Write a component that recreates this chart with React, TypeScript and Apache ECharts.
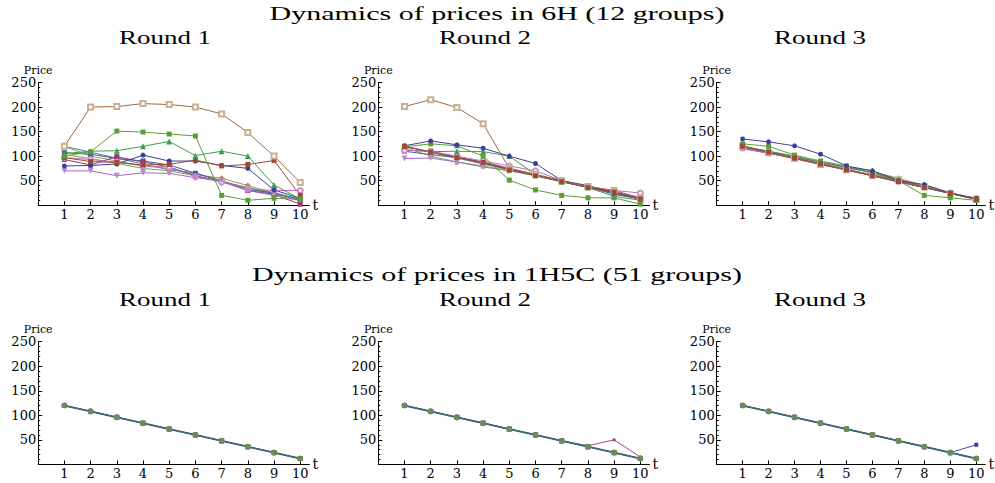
import React, { useEffect, useRef } from "react";
import * as echarts from "echarts";

// ---------- data ----------
const T = [1, 2, 3, 4, 5, 6, 7, 8, 9, 10];
const X_TICKS = [1, 2, 3, 4, 5, 6, 7, 8, 9, 10];

const ROW_TITLES = ["Dynamics of prices in 6H (12 groups)", "Dynamics of prices in 1H5C (51 groups)"];
const ROUND_TITLES = ["Round 1", "Round 2", "Round 3"];

// 6H, Round 1
const h6r1Brown = [120, 200, 201, 207, 205, 200, 186, 148, 100, 46];
const h6r1GreenSq = [100, 109, 151, 149, 145, 141, 20, 10, 14, 12];
const h6r1GreenTri = [105, 110, 111, 120, 130, 101, 110, 100, 41, 13];
const h6r1BlueCirc = [80, 81, 84, 102, 90, 90, 81, 75, 31, 14];
const h6r1RedSq = [97, 89, 87, 82, 83, 92, 80, 83, 91, 20];
const h6r1MagSq = [93, 82, 99, 88, 78, 60, 48, 30, 22, 2];
const h6r1LavTri = [70, 70, 60, 66, 65, 56, 50, 30, 20, 10];
const h6r1PinkCirc = [97, 93, 88, 80, 78, 58, 47, 33, 30, 30];
const h6r1Olive = [120, 100, 90, 80, 75, 62, 55, 40, 25, 10];
const h6r1Teal = [120, 108, 96, 84, 72, 66, 48, 36, 24, 12];
const h6r1BlueSq = [107, 104, 95, 90, 82, 65, 50, 32, 25, 12];
const h6r1LightGreen = [103, 95, 85, 75, 70, 60, 48, 35, 22, 13];

// 6H, Round 2
const h6r2Brown = [201, 215, 199, 166, 75, 63, 50, 38, 30, 15];
const h6r2BlueCirc = [121, 131, 123, 116, 100, 85, 50, 40, 25, 15];
const h6r2GreenSq = [119, 125, 121, 100, 51, 31, 20, 15, 15, 2];
const h6r2GreenTri = [120, 109, 110, 109, 100, 62, 48, 36, 18, 10];
const h6r2RedSq = [120, 108, 97, 87, 72, 60, 48, 36, 27, 13];
const h6r2MagSq = [112, 110, 98, 88, 75, 62, 49, 36, 26, 12];
const h6r2LavTri = [95, 96, 88, 78, 70, 62, 48, 37, 28, 12];
const h6r2PinkCirc = [112, 110, 100, 90, 80, 70, 50, 38, 30, 25];
const h6r2Olive = [120, 108, 96, 85, 73, 62, 50, 38, 26, 14];
const h6r2Teal = [120, 108, 96, 84, 72, 60, 48, 36, 24, 12];
const h6r2BlueSq = [110, 103, 97, 86, 74, 62, 49, 37, 22, 13];
const h6r2LightGreen = [118, 100, 88, 80, 70, 60, 48, 36, 24, 12];

// 6H, Round 3
const h6r3BlueCirc = [135, 129, 121, 104, 80, 70, 50, 42, 25, 14];
const h6r3GreenSq = [125, 120, 102, 90, 80, 65, 50, 20, 15, 10];
const h6r3RedSq = [120, 108, 96, 84, 72, 60, 48, 36, 24, 12];
const h6r3LavTri = [115, 106, 96, 84, 72, 60, 47, 36, 24, 12];
const h6r3PinkCirc = [117, 107, 97, 85, 73, 62, 50, 38, 25, 13];
const h6r3Olive = [118, 108, 98, 86, 75, 68, 55, 40, 25, 13];
const h6r3GreenTri = [120, 110, 100, 88, 78, 70, 52, 38, 24, 12];
const h6r3BlueSq = [118, 110, 98, 88, 77, 66, 50, 38, 24, 13];
const h6r3Teal = [120, 108, 96, 84, 72, 60, 48, 36, 24, 12];
const h6r3Brown = [120, 107, 95, 83, 72, 61, 52, 37, 24, 12];
const h6r3MagSq = [116, 106, 95, 83, 72, 60, 48, 36, 24, 12];
const h6r3LightGreen = [121, 109, 97, 85, 73, 61, 49, 37, 25, 13];

// 1H5C
const c5r1Main = [120, 108, 96, 84, 72, 60, 48, 36, 24, 12];
const c5r2Main = [120, 108, 96, 84, 72, 60, 48, 36, 24, 12];
const c5r2Dev = [120, 108, 96, 84, 72, 60, 48, 38, 50, 15];
const c5r3Main = [120, 108, 96, 84, 72, 60, 48, 36, 24, 12];
const c5r3Dev = [120, 108, 96, 84, 72, 60, 48, 36, 24, 40];

// ---------- styles ----------
type Sty = { line: string; mark: string; symbol: string; size: number; rotate?: number; width?: number };
const S: Record<string, Sty> = {
  brown: { line: "#9e6a40", mark: "#c9ae94", symbol: "emptyRect", size: 5 },
  greenSq: { line: "#5c9e36", mark: "#5c9e36", symbol: "rect", size: 5 },
  greenTri: { line: "#3f9d52", mark: "#3f9d52", symbol: "triangle", size: 6 },
  blueCirc: { line: "#3d3d9e", mark: "#3d3d9e", symbol: "circle", size: 5 },
  redSq: { line: "#9c4a36", mark: "#9c4a36", symbol: "rect", size: 5 },
  magSq: { line: "#9b366f", mark: "#9b366f", symbol: "rect", size: 5 },
  lavTri: { line: "#a765c6", mark: "#b88ad0", symbol: "triangle", size: 6, rotate: 180 },
  pinkCirc: { line: "#c06fc0", mark: "#cf8fcf", symbol: "emptyCircle", size: 5 },
  olive: { line: "#a39340", mark: "#a39340", symbol: "diamond", size: 6 },
  teal: { line: "#3d8aa3", mark: "#3d8aa3", symbol: "circle", size: 4 },
  blueSq: { line: "#3d5fa3", mark: "#3d5fa3", symbol: "rect", size: 5 },
  lightGreen: { line: "#6fae48", mark: "#6fae48", symbol: "triangle", size: 5 },
  mainLine: { line: "#3b6a7c", mark: "#6b8c5e", symbol: "circle", size: 6, width: 1.8 },
  devMag: { line: "#a6468c", mark: "#a6468c", symbol: "rect", size: 3 },
  devBlue: { line: "#4a4aa8", mark: "#3d3d9e", symbol: "rect", size: 4 },
};

const PANELS: { key: string; data: number[] }[][] = [
  [
    { key: "teal", data: h6r1Teal }, { key: "lightGreen", data: h6r1LightGreen }, { key: "olive", data: h6r1Olive },
    { key: "blueSq", data: h6r1BlueSq }, { key: "magSq", data: h6r1MagSq }, { key: "pinkCirc", data: h6r1PinkCirc },
    { key: "lavTri", data: h6r1LavTri }, { key: "blueCirc", data: h6r1BlueCirc }, { key: "redSq", data: h6r1RedSq },
    { key: "greenTri", data: h6r1GreenTri }, { key: "greenSq", data: h6r1GreenSq }, { key: "brown", data: h6r1Brown },
  ],
  [
    { key: "teal", data: h6r2Teal }, { key: "lightGreen", data: h6r2LightGreen }, { key: "olive", data: h6r2Olive },
    { key: "blueSq", data: h6r2BlueSq }, { key: "magSq", data: h6r2MagSq }, { key: "pinkCirc", data: h6r2PinkCirc },
    { key: "lavTri", data: h6r2LavTri }, { key: "greenTri", data: h6r2GreenTri }, { key: "greenSq", data: h6r2GreenSq },
    { key: "blueCirc", data: h6r2BlueCirc }, { key: "brown", data: h6r2Brown }, { key: "redSq", data: h6r2RedSq },
  ],
  [
    { key: "teal", data: h6r3Teal }, { key: "lightGreen", data: h6r3LightGreen }, { key: "olive", data: h6r3Olive },
    { key: "blueSq", data: h6r3BlueSq }, { key: "magSq", data: h6r3MagSq }, { key: "pinkCirc", data: h6r3PinkCirc },
    { key: "lavTri", data: h6r3LavTri }, { key: "greenTri", data: h6r3GreenTri }, { key: "brown", data: h6r3Brown },
    { key: "greenSq", data: h6r3GreenSq }, { key: "blueCirc", data: h6r3BlueCirc }, { key: "redSq", data: h6r3RedSq },
  ],
  [
    { key: "magSq", data: c5r1Main }, { key: "blueCirc", data: c5r1Main }, { key: "olive", data: c5r1Main },
    { key: "greenSq", data: c5r1Main }, { key: "mainLine", data: c5r1Main },
  ],
  [
    { key: "devMag", data: c5r2Dev }, { key: "magSq", data: c5r2Main }, { key: "blueCirc", data: c5r2Main },
    { key: "olive", data: c5r2Main }, { key: "greenSq", data: c5r2Main }, { key: "mainLine", data: c5r2Main },
  ],
  [
    { key: "devBlue", data: c5r3Dev }, { key: "magSq", data: c5r3Main }, { key: "blueCirc", data: c5r3Main },
    { key: "olive", data: c5r3Main }, { key: "greenSq", data: c5r3Main }, { key: "mainLine", data: c5r3Main },
  ],
];

// ---------- layout ----------
const COL_LEFT = [38.2, 378.3, 716.7];
const GRID_W = 271.2;
const ROW_TOP = [82.5, 341.7];
const GRID_H = 122.7;
const ROW_TITLE_Y = [14, 275];
const ROUND_Y = [38, 300];
const ROUND_X = [165, 485, 820];

const AXIS_FONT = "DejaVu Serif";
const TITLE_FONT = "Liberation Serif";

export default function App() {
  const ref = useRef<HTMLDivElement>(null);
  useEffect(() => {
    if (!ref.current) return;
    const chart = echarts.init(ref.current, null, { renderer: "svg" });
    const grids: any[] = [];
    const xAxes: any[] = [];
    const yAxes: any[] = [];
    const series: any[] = [];
    for (let p = 0; p < 6; p++) {
      const row = Math.floor(p / 3);
      const col = p % 3;
      grids.push({ left: COL_LEFT[col], top: ROW_TOP[row], width: GRID_W, height: GRID_H, containLabel: false });
      xAxes.push({
        type: "value", gridIndex: p, min: 0, max: 10.35,
        name: "t", nameLocation: "end", nameGap: 3,
        nameTextStyle: { fontFamily: AXIS_FONT, fontSize: 14, color: "#000", verticalAlign: "middle" },
        axisLine: { onZero: true, lineStyle: { color: "#000", width: 1 } },
        axisTick: { show: true, inside: true, length: 4, customValues: X_TICKS, lineStyle: { color: "#000" } },
        axisLabel: { customValues: X_TICKS, margin: 3, fontFamily: AXIS_FONT, fontSize: 13, color: "#000" },
        splitLine: { show: false },
      });
      yAxes.push({
        type: "value", gridIndex: p, min: 0, max: 250, interval: 50,
        name: "Price", nameLocation: "end", nameGap: 3,
        nameTextStyle: { fontFamily: AXIS_FONT, fontSize: 11, color: "#000", align: "center" },
        axisLine: { show: true, lineStyle: { color: "#000", width: 1 } },
        axisTick: { show: true, inside: true, length: 4, lineStyle: { color: "#000" } },
        minorTick: { show: true, splitNumber: 5, length: 2, lineStyle: { color: "#000" } },
        axisLabel: { showMinLabel: false, margin: 2, fontFamily: AXIS_FONT, fontSize: 13, color: "#000" },
        splitLine: { show: false },
      });
      for (const s of PANELS[p]) {
        const st = S[s.key];
        const empty = st.symbol.startsWith("empty");
        series.push({
          type: "line", xAxisIndex: p, yAxisIndex: p,
          data: T.map((t, i) => [t, s.data[i]]),
          symbol: st.symbol, symbolSize: st.size, symbolRotate: st.rotate || 0,
          lineStyle: { color: st.line, width: st.width || 1 },
          itemStyle: empty
            ? { color: st.mark, borderColor: st.mark, borderWidth: 1 }
            : { color: st.mark, borderWidth: 0 },
          emphasis: { disabled: true }, silent: true,
        });
      }
    }
    const graphic: any[] = [];
    for (let r = 0; r < 2; r++) {
      graphic.push({
        type: "text", x: 497, y: ROW_TITLE_Y[r], scaleX: 1.58,
        style: { text: ROW_TITLES[r], font: `19px '${TITLE_FONT}'`, fill: "#000", textAlign: "center", textVerticalAlign: "middle" },
      });
      for (let c = 0; c < 3; c++) {
        graphic.push({
          type: "text", x: ROUND_X[c], y: ROUND_Y[r], scaleX: 1.5,
          style: { text: ROUND_TITLES[c], font: `18px '${TITLE_FONT}'`, fill: "#000", textAlign: "center", textVerticalAlign: "middle" },
        });
      }
    }
    chart.setOption({
      animation: false,
      backgroundColor: "#fff",
      grid: grids, xAxis: xAxes, yAxis: yAxes, series, graphic,
    });
    return () => chart.dispose();
  }, []);
  return <div ref={ref} style={{ position: "absolute", left: 0, top: 0, width: 995, height: 483 }} />;
}
